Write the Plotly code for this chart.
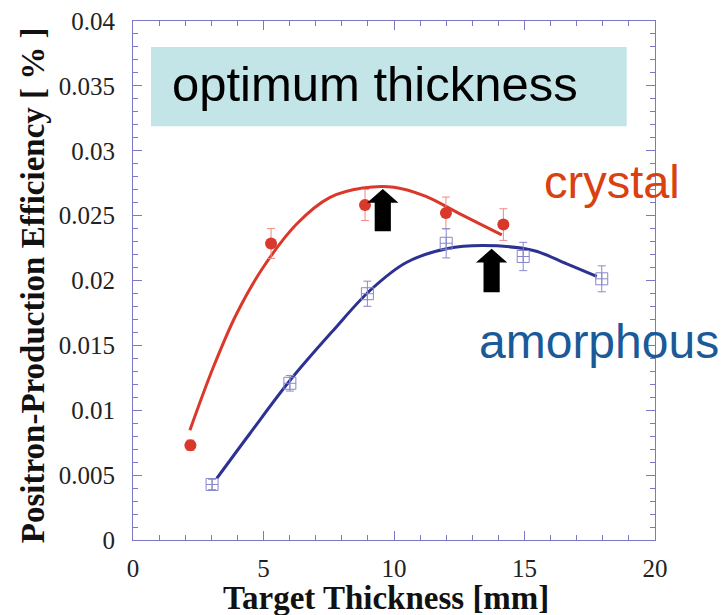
import plotly.graph_objects as go

# ---- data ----
crystal_x = [2.2, 5.29, 8.89, 11.99, 14.19]
crystal_y = [0.0073, 0.02285, 0.02582, 0.0252, 0.02431]
crystal_err = [0.0004, 0.00115, 0.0012, 0.00123, 0.00122]

amorph_x = [3.03, 6.01, 8.98, 12.0, 14.95, 17.96]
amorph_y = [0.00428, 0.01208, 0.01898, 0.02287, 0.02185, 0.02013]
amorph_err = [0.0004, 0.0006, 0.00097, 0.00113, 0.00109, 0.001]

crystal_fit_x = [2.18, 3.08, 3.97, 4.99, 6.27, 7.55, 8.8, 10.0, 11.2, 12.4, 13.42, 14.13]
crystal_fit_y = [0.00846, 0.01333, 0.01744, 0.02102, 0.02436, 0.02641, 0.02713, 0.02719,
                 0.0265, 0.02527, 0.02423, 0.02352]

amorph_fit_x = [3.21, 4.48, 6.02, 7.67, 9.08, 10.49, 12.02, 13.42, 15.34, 16.62, 17.77]
amorph_fit_y = [0.00475, 0.00821, 0.01231, 0.01615, 0.01923, 0.02141, 0.02244, 0.02269,
                0.02231, 0.02128, 0.02031]

# optimum-thickness arrows (x centre, tip, bottom)
arrow_x = [9.57, 13.74]
arrow_tip = [0.02705, 0.02244]
arrow_bottom = [0.02379, 0.0191]

x_ticks = [0, 5, 10, 15, 20]
y_ticks = [0, 0.005, 0.01, 0.015, 0.02, 0.025, 0.03, 0.035, 0.04]

RED = "#d9382a"
BLUE = "#2c3192"
AXIS = "#7a7ac4"
SERIF = "Liberation Serif, Times New Roman, serif"
SANS = "Liberation Sans, Arial, Helvetica, sans-serif"

fig = go.Figure()

fig.add_trace(go.Scatter(x=crystal_fit_x, y=crystal_fit_y, mode="lines",
                         line=dict(color=RED, width=3, shape="spline", smoothing=1.0),
                         hoverinfo="skip", showlegend=False))
fig.add_trace(go.Scatter(x=amorph_fit_x, y=amorph_fit_y, mode="lines",
                         line=dict(color=BLUE, width=3, shape="spline", smoothing=1.0),
                         hoverinfo="skip", showlegend=False))

fig.add_trace(go.Scatter(x=crystal_x, y=crystal_y, mode="markers",
                         marker=dict(symbol="circle", size=12, color=RED),
                         error_y=dict(type="data", array=crystal_err, color="#ee8a86",
                                      thickness=1, width=4),
                         showlegend=False))
fig.add_trace(go.Scatter(x=amorph_x, y=amorph_y, mode="markers",
                         marker=dict(symbol="square-cross-open", size=12, color="#8686cc",
                                     line=dict(width=1, color="#8686cc")),
                         error_y=dict(type="data", array=amorph_err, color="#8a8acc",
                                      thickness=1, width=4),
                         showlegend=False))

# block arrows
head_half = 0.6
shaft_half = 0.31
head_len = 0.00105
for cx, tip, bot in zip(arrow_x, arrow_tip, arrow_bottom):
    hb = tip - head_len
    path = (f"M {cx - shaft_half} {bot} L {cx + shaft_half} {bot} L {cx + shaft_half} {hb} "
            f"L {cx + head_half} {hb} L {cx} {tip} L {cx - head_half} {hb} "
            f"L {cx - shaft_half} {hb} Z")
    fig.add_shape(type="path", path=path, xref="x", yref="y",
                  fillcolor="black", line=dict(width=0))

# "optimum thickness" box
fig.add_shape(type="rect", xref="paper", yref="paper",
              x0=0.0345, x1=0.9458, y0=0.797, y1=0.950,
              fillcolor="#c4e5e8", line=dict(width=0), layer="below")
fig.add_annotation(text="optimum thickness", xref="paper", yref="paper",
                   x=0.070, y=0.878, xanchor="left", yanchor="middle", showarrow=False,
                   font=dict(family=SANS, size=49, color="black"))
fig.add_annotation(text="crystal", xref="paper", yref="paper",
                   x=0.917, y=0.69, xanchor="center", yanchor="middle", showarrow=False,
                   font=dict(family=SANS, size=47, color="#d9410f"))
fig.add_annotation(text="amorphous", xref="paper", yref="paper",
                   x=0.893, y=0.382, xanchor="center", yanchor="middle", showarrow=False,
                   font=dict(family=SANS, size=48, color="#1a5a98"))

# axis titles
fig.add_annotation(text="<b>Target Thickness [mm]</b>", xref="paper", yref="paper",
                   x=0.485, y=-0.112, xanchor="center", yanchor="middle", showarrow=False,
                   font=dict(family=SERIF, size=33, color="#111111"))
fig.add_annotation(text="<b>Positron-Production Efficiency [ % ]</b>", xref="paper", yref="paper",
                   x=-0.1916, y=0.491, xanchor="center", yanchor="middle", showarrow=False,
                   textangle=-90, font=dict(family=SERIF, size=33, color="#111111"))

axis_common = dict(showline=True, linecolor=AXIS, linewidth=1, mirror="ticks",
                   ticks="inside", ticklen=9, tickcolor=AXIS, tickwidth=1,
                   showgrid=False, zeroline=False, automargin=False,
                   ticklabeloverflow="allow",
                   tickfont=dict(family=SERIF, size=25, color="#222222"))

fig.update_xaxes(range=[0, 20], tickvals=x_ticks,
                 minor=dict(dtick=1, ticks="inside", ticklen=5, tickcolor=AXIS, showgrid=False),
                 ticklabelstandoff=6, **axis_common)
fig.update_yaxes(range=[0, 0.04], tickvals=y_ticks,
                 minor=dict(dtick=0.001, ticks="inside", ticklen=5, tickcolor=AXIS, showgrid=False),
                 ticklabelstandoff=12, **axis_common)

# the page body adds an 8px margin, so the figure is offset to compensate
fig.update_layout(width=718, height=607, plot_bgcolor="white", paper_bgcolor="white",
                  margin=dict(l=125, r=71, t=13, b=75), showlegend=False)

fig.write_html("out.html")
